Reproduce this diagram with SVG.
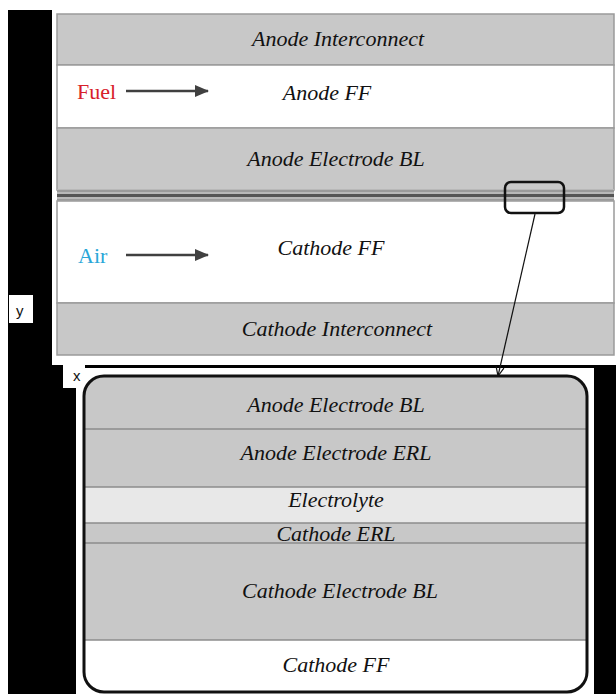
<svg xmlns="http://www.w3.org/2000/svg" width="616" height="694" viewBox="0 0 616 694">
<defs>
<style>
.lbl{font-family:"Liberation Serif","Times New Roman",serif;font-style:italic;font-size:22px;fill:#111;text-anchor:middle}
.gray{fill:#c8c8c8}
.sep{stroke:#8c8c8c;stroke-width:1.5;fill:none}
.axis{font-family:"Liberation Sans",Arial,sans-serif;font-size:15px;fill:#111}
.flow{stroke:#404040;stroke-width:2.6}
</style>
<marker id="solidHead" viewBox="0 0 14 12" refX="13" refY="6" markerWidth="14" markerHeight="12" markerUnits="userSpaceOnUse" orient="auto">
<path d="M0,0 L14,6 L0,12 Z" fill="#404040"/>
</marker>
<marker id="openHead" viewBox="0 0 10 10" refX="9" refY="5" markerWidth="10" markerHeight="10" markerUnits="userSpaceOnUse" orient="auto">
<path d="M0,1 L9,5 L0,9" fill="none" stroke="#111" stroke-width="1.2"/>
</marker>
</defs>
<rect width="616" height="694" fill="#fff"/>
<g id="background">
<rect x="8" y="10" width="608" height="684" fill="#000"/>
<rect x="52" y="10" width="564" height="355" fill="#fff"/>
<rect x="76" y="368" width="518" height="326" fill="#fff"/>
<rect x="63" y="365" width="22" height="23" fill="#fff"/>
<rect x="9" y="295" width="24" height="28" fill="#fff"/>
<text class="axis" x="16" y="316">y</text>
<text class="axis" x="73" y="381">x</text>
</g>
<g id="anode-interconnect">
<rect class="gray" x="57" y="14" width="557" height="51" stroke="#9a9a9a" stroke-width="1.5"/>
<text class="lbl" x="338" y="46">Anode Interconnect</text>
</g>
<g id="anode-ff">
<rect x="57" y="65" width="557" height="63" fill="#fff" stroke="#9a9a9a" stroke-width="1.5"/>
<text x="77" y="99" font-family="'Liberation Serif','Times New Roman',serif" font-size="22" fill="#d8202a">Fuel</text>
<text class="lbl" x="327" y="100">Anode FF</text>
</g>
<g id="anode-electrode-bl">
<rect class="gray" x="57" y="128" width="557" height="62" stroke="#9a9a9a" stroke-width="1.5"/>
<text class="lbl" x="336" y="166">Anode Electrode BL</text>
</g>
<g id="thin-layers">
<rect x="57" y="189" width="557" height="12" fill="#b8b8b8"/>
<rect x="57" y="190" width="557" height="2" fill="#9a9a9a"/>
<rect x="57" y="194" width="557" height="3" fill="#555"/>
<rect x="57" y="199" width="557" height="1.5" fill="#999"/>
</g>
<g id="cathode-ff">
<rect x="57" y="201" width="557" height="102" fill="#fff" stroke="#9a9a9a" stroke-width="1.5"/>
<text x="78" y="263" font-family="'Liberation Serif','Times New Roman',serif" font-size="22" fill="#2aa7d8">Air</text>
<text class="lbl" x="331" y="255">Cathode FF</text>
</g>
<g id="cathode-interconnect">
<rect class="gray" x="57" y="303" width="557" height="52" stroke="#9a9a9a" stroke-width="1.5"/>
<text class="lbl" x="337" y="336">Cathode Interconnect</text>
</g>
<g id="zoom-box">
<rect x="505" y="182" width="59" height="31" rx="6" fill="none" stroke="#111" stroke-width="2.5"/>
</g>
<g id="detail">
<clipPath id="detailClip"><rect x="84" y="376" width="503" height="316" rx="20"/></clipPath>
<g clip-path="url(#detailClip)">
<rect class="gray" x="84" y="376" width="503" height="53"/>
<rect class="gray" x="84" y="429" width="503" height="58"/>
<rect x="84" y="487" width="503" height="36" fill="#e8e8e8"/>
<rect class="gray" x="84" y="523" width="503" height="20"/>
<rect class="gray" x="84" y="543" width="503" height="97"/>
<rect x="84" y="640" width="503" height="52" fill="#fff"/>
<line class="sep" x1="84" y1="429" x2="587" y2="429"/>
<line class="sep" x1="84" y1="487" x2="587" y2="487"/>
<line class="sep" x1="84" y1="523" x2="587" y2="523"/>
<line class="sep" x1="84" y1="543" x2="587" y2="543"/>
<line class="sep" x1="84" y1="640" x2="587" y2="640"/>
</g>
<rect x="84" y="376" width="503" height="316" rx="20" fill="none" stroke="#111" stroke-width="3"/>
<text class="lbl" x="336" y="412">Anode Electrode BL</text>
<text class="lbl" x="336" y="460">Anode Electrode ERL</text>
<text class="lbl" x="336" y="507">Electrolyte</text>
<text class="lbl" x="336" y="541">Cathode ERL</text>
<text class="lbl" x="340" y="598">Cathode Electrode BL</text>
<text class="lbl" x="336" y="672">Cathode FF</text>
</g>
<g id="connectors">
<line class="flow" x1="126" y1="91" x2="208" y2="91" marker-end="url(#solidHead)"/>
<line class="flow" x1="126" y1="255" x2="208" y2="255" marker-end="url(#solidHead)"/>
<line x1="535" y1="214" x2="498" y2="376" stroke="#111" stroke-width="1.2" marker-end="url(#openHead)"/>
</g>
</svg>
